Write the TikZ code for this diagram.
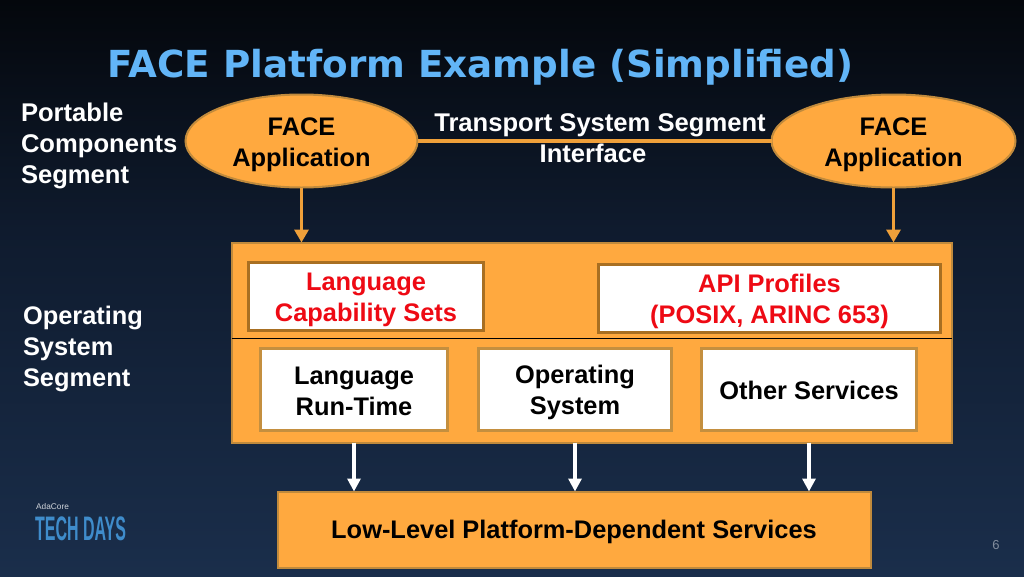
\documentclass[tikz,border=0pt]{standalone}
\usepackage{fontspec}
\setmainfont{Liberation Sans}
\newfontfamily\titlefont{DejaVu Sans}
\usetikzlibrary{arrows.meta,shapes.geometric,positioning}
\definecolor{orangefill}{HTML}{FFA93F}
\definecolor{orangeedge}{HTML}{C08A3C}
\definecolor{darkedge}{HTML}{A86F22}
\definecolor{softedge}{HTML}{C48F3F}
\definecolor{linkorange}{HTML}{EFA03A}
\definecolor{bgtop}{HTML}{04070C}
\definecolor{bgmid}{HTML}{0F1B2E}
\definecolor{bgbot}{HTML}{1A2E4B}
\definecolor{titleblue}{HTML}{62B5F7}
\definecolor{logoblue}{HTML}{3F8CCB}
\definecolor{labelred}{HTML}{EE0A14}
\newcommand\tp[1]{\rule{0pt}{\dimexpr18pt+#1pt+#1pt\relax}}
\tikzset{
  x=1pt,y=-1pt,
  lbl/.style={font=\fontsize{25.4}{31}\selectfont\bfseries,inner sep=0pt,outer sep=0pt},
  side/.style={lbl,white,align=left,anchor=west},
  ell/.style={lbl,ellipse,draw=orangeedge,fill=orangefill,line width=2pt,align=center,text=black},
  panel/.style={lbl,draw=orangeedge,fill=orangefill,line width=2pt,align=center,text=black},
  whitebox/.style={lbl,draw=softedge,fill=white,line width=2.5pt,align=center,text=black},
  redbox/.style={lbl,draw=darkedge,fill=white,line width=3pt,align=center,text=labelred},
  orangelink/.style={draw=linkorange,line width=3.5pt},
  orangearrow/.style={orangelink,-{Triangle[length=13pt,width=14pt,fill=linkorange]}},
  whitearrow/.style={draw=white,line width=4pt,-{Triangle[length=13pt,width=13pt,fill=white]}},
}
\begin{document}
\begin{tikzpicture}
\useasboundingbox (0,0) rectangle (1024,576);
\shade[top color=bgtop,bottom color=bgmid] (0,0) rectangle (1024,230);
\shade[top color=bgmid,bottom color=bgbot] (0,230) rectangle (1024,576);

\node[inner sep=0pt,anchor=center,text=titleblue] (title) at (480.5,67)
  {\titlefont\fontsize{37.25}{40}\selectfont\bfseries FACE Platform Example (Simplified)};

\node[side,font=\fontsize{25.6}{31}\selectfont\bfseries] (pcs) at (21,146) {Portable\\Components\\Segment};
\node[side] (oss) at (23,349) {Operating\\System\\Segment};

\node[ell,minimum width=232pt,minimum height=93pt] (appl) at (301.5,141) {\tp{3.5}FACE\\Application};
\node[ell,minimum width=244pt,minimum height=93pt] (appr) at (893.5,141) {\tp{3.5}FACE\\Application};

\draw[orangelink] (appl) -- (appr);
\node[lbl,white,align=center,font=\fontsize{25.6}{31}\selectfont\bfseries] (tss) at (600,138) {Transport System Segment\\Interface\hspace*{14pt}};

\node[panel,minimum width=720pt,minimum height=200pt] (os) at (591.5,342.5) {};
\draw[orangearrow] (appl.south) -- (appl.south |- os.north);
\draw[orangearrow] (appr.south) -- (appr.south |- os.north);

\coordinate (divl) at (os.west |- 0,338.5);
\coordinate (divr) at (os.east |- 0,338.5);
\draw[black,line width=1pt] (divl) -- (divr);

\node[redbox,minimum width=235pt,minimum height=68pt] (lcs) at (366,296.5) {\tp{3.5}Language\\Capability Sets};
\node[redbox,minimum width=342pt,minimum height=68pt] (api) at (769.5,298.5) {\tp{3}API Profiles\\(POSIX, ARINC 653)};
\node[whitebox,minimum width=187pt,minimum height=82pt] (lrt) at (354,389.5) {\tp{1.5}Language\\Run-Time};
\node[whitebox,minimum width=193pt,minimum height=82pt] (opsys) at (575,389.5) {\tp{3.5}Operating\\System};
\node[whitebox,minimum width=215pt,minimum height=82pt] (other) at (809,389.5) {\tp{1.5}Other Services};

\node[panel,minimum width=593pt,minimum height=76pt] (low) at (574,529.5) {\tp{3}Low-Level Platform-Dependent Services};

\draw[whitearrow] (lrt |- os.south) -- (lrt |- low.north);
\draw[whitearrow] (opsys |- os.south) -- (opsys |- low.north);
\draw[whitearrow] (other |- os.south) -- (other |- low.north);

\node[inner sep=0pt,anchor=west,text=white!80!bgbot,font=\fontsize{8.3}{10}\selectfont] (ada) at (36,506.5) {AdaCore};
\node[inner sep=0pt,anchor=west,text=logoblue,xscale=0.47,font=\fontsize{34}{36}\selectfont\bfseries] (tech) at (35,529) {TECH DAYS};
\node[inner sep=0pt,text=white!45!bgbot,font=\fontsize{13}{14}\selectfont] (page) at (996,545) {6};
\end{tikzpicture}
\end{document}
